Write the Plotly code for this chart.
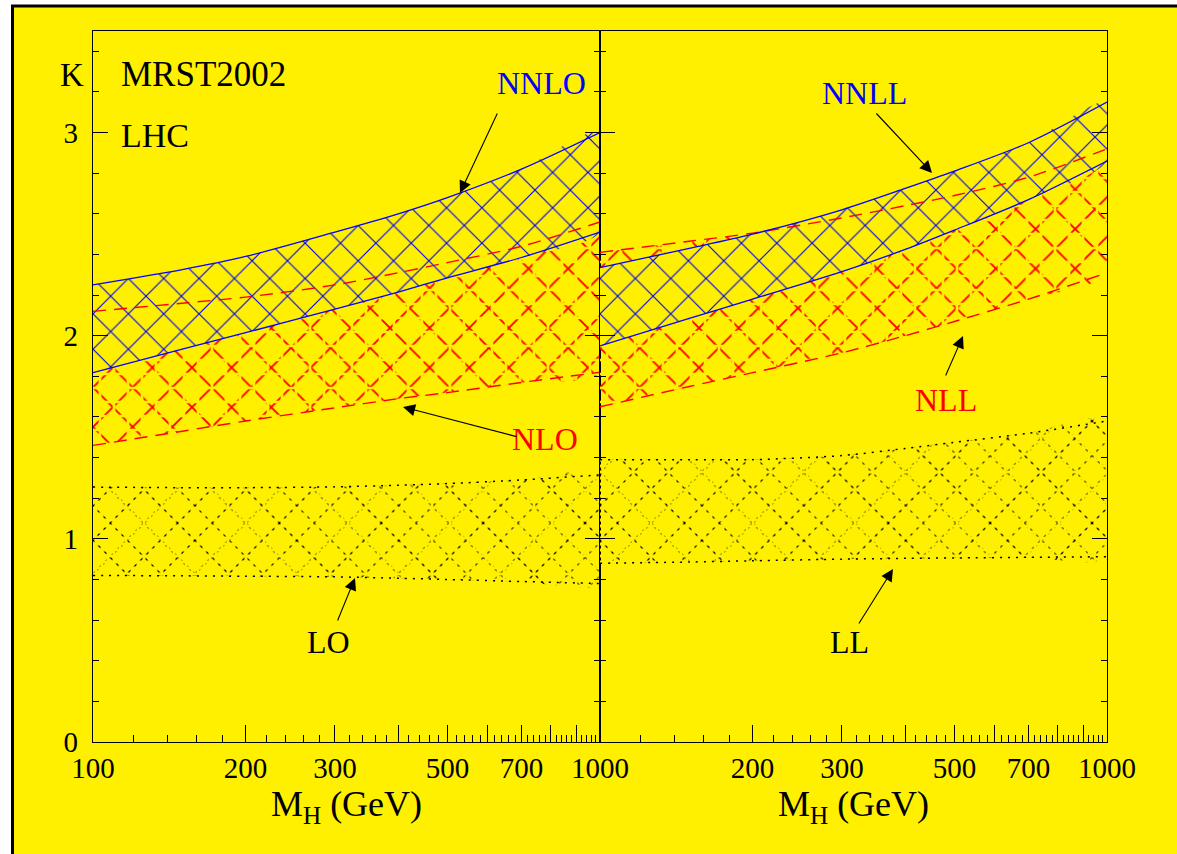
import plotly.graph_objects as go

# ---------------- data ----------------
MH = [100, 150, 200, 300, 400, 500, 700, 1000]

# left panel: fixed order
nnlo_hi = [2.25, 2.325, 2.39, 2.51, 2.60, 2.68, 2.82, 3.00]
nnlo_lo = [1.818, 1.934, 2.015, 2.131, 2.215, 2.285, 2.385, 2.51]
nlo_hi = [2.12, 2.16, 2.19, 2.25, 2.31, 2.36, 2.44, 2.56]
nlo_lo = [1.46, 1.53, 1.58, 1.645, 1.69, 1.72, 1.77, 1.82]
lo_hi = [1.255, 1.252, 1.252, 1.256, 1.264, 1.272, 1.29, 1.315]
lo_lo = [0.82, 0.818, 0.816, 0.813, 0.806, 0.80, 0.79, 0.78]

# right panel: resummed
nnll_hi = [2.335, 2.43, 2.50, 2.62, 2.725, 2.81, 2.95, 3.15]
nnll_lo = [1.95, 2.085, 2.18, 2.315, 2.425, 2.52, 2.67, 2.86]
nll_hi = [2.41, 2.465, 2.505, 2.58, 2.64, 2.69, 2.78, 2.92]
nll_lo = [1.65, 1.75, 1.818, 1.916, 2.0, 2.07, 2.18, 2.31]
ll_hi = [1.39, 1.39, 1.39, 1.41, 1.445, 1.475, 1.52, 1.58]
ll_lo = [0.88, 0.886, 0.892, 0.90, 0.904, 0.906, 0.909, 0.912]

x_major = [100, 200, 300, 400, 500, 600, 700, 800, 900, 1000]
x_text_left = ["100", "200", "300", "", "500", "", "700", "", "", "1000"]
x_text_right = ["", "200", "300", "", "500", "", "700", "", "", "1000"]
x_minor = [v for v in range(120, 1000, 20) if v % 100 != 0]
y_major = [0, 1, 2, 3]

# ---------------- style ----------------
YELLOW = "#FFF000"
BLUE = "#0000FF"
RED = "#FF0000"
FONT = "Liberation Serif"
W, H = 1177, 854
ML, MR, MT, MB = 93, 70, 31, 112


def pp(x, y):
    """pixel -> paper coordinates"""
    return (x - ML) / (W - ML - MR), (H - MB - y) / (H - MT - MB)


fig = go.Figure()
TRANSP = "rgba(0,0,0,0)"


def add_fill(xa, ya, hi, lo, shape, fg, size, solidity, bg=TRANSP, opacity=1.0):
    fig.add_trace(go.Scatter(
        x=MH + MH[::-1], y=hi + lo[::-1], xaxis=xa, yaxis=ya,
        mode="lines", line=dict(width=0, shape="spline", smoothing=0.8),
        fill="toself", fillcolor=bg,
        fillpattern=dict(shape=shape, fgcolor=fg, bgcolor=bg, size=size,
                         solidity=solidity, fgopacity=opacity, fillmode="replace"),
        hoverinfo="skip", showlegend=False))


def add_edges(xa, ya, hi, lo, color, dash, width):
    for ys in (hi, lo):
        fig.add_trace(go.Scatter(
            x=MH, y=ys, xaxis=xa, yaxis=ya, mode="lines",
            line=dict(color=color, dash=dash, width=width, shape="spline", smoothing=0.8),
            hoverinfo="skip", showlegend=False))


for xa, ya, b_hi, b_lo, r_hi, r_lo, k_hi, k_lo in [
        ("x", "y", lo_hi, lo_lo, nlo_hi, nlo_lo, nnlo_hi, nnlo_lo),
        ("x2", "y2", ll_hi, ll_lo, nll_hi, nll_lo, nnll_hi, nnll_lo)]:
    # dotted black band: black cross hatch broken into dots by a yellow grid
    add_fill(xa, ya, b_hi, b_lo, "x", "black", 24, 0.11)
    add_fill(xa, ya, b_hi, b_lo, "+", YELLOW, 6, 0.74)
    add_edges(xa, ya, b_hi, b_lo, "black", "2px,6px", 1.5)
    # dashed red band: red cross hatch broken by yellow grid
    add_fill(xa, ya, r_hi, r_lo, "x", RED, 28, 0.13)
    add_fill(xa, ya, r_hi, r_lo, "+", YELLOW, 14, 0.35)
    # blue cross-hatched band (opaque)
    add_fill(xa, ya, k_hi, k_lo, "x", BLUE, 25, 0.09, bg=YELLOW)
    add_edges(xa, ya, r_hi, r_lo, RED, "13px,8px", 1.4)
    add_edges(xa, ya, k_hi, k_lo, BLUE, "solid", 1.3)

axis_common = dict(showgrid=False, zeroline=False, showline=True, linecolor="black",
                   linewidth=1.3, ticks="inside", tickcolor="black",
                   tickfont=dict(family=FONT, size=29, color="black"))

xcommon = dict(axis_common, type="log", range=[2, 3], mirror=True, ticklen=17, tickwidth=1.2,
               tickvals=x_major,
               minor=dict(tickvals=x_minor, ticklen=7, ticks="inside", tickcolor="black", tickwidth=1),
               title=dict(text="M<sub>H</sub> (GeV)", font=dict(family=FONT, size=36, color="black"),
                          standoff=6))
ycommon = dict(axis_common, range=[0, 3.5], mirror="ticks", ticklen=15, tickwidth=1.2,
               tickvals=y_major,
               minor=dict(dtick=0.2, ticklen=6, ticks="inside", tickcolor="black", tickwidth=1))

fig.update_layout(
    width=W, height=H,
    margin=dict(l=ML, r=MR, t=MT, b=MB, pad=0),
    paper_bgcolor=YELLOW, plot_bgcolor=YELLOW,
    showlegend=False,
    xaxis=dict(xcommon, domain=[0, 0.5], anchor="y", ticktext=x_text_left),
    xaxis2=dict(xcommon, domain=[0.5, 1], anchor="y2", ticktext=x_text_right),
    yaxis=dict(ycommon, domain=[0, 1], anchor="x", ticklabelstandoff=8),
    yaxis2=dict(ycommon, domain=[0, 1], anchor="x2", showticklabels=False),
)

# text labels
labels = [
    ("K", 72, 75, "black", 33, "center"),
    ("MRST2002", 119, 74, "black", 35, "left"),
    ("LHC", 119, 135, "black", 34, "left"),
    ("NNLO", 541, 83, BLUE, 32, "center"),
    ("NLO", 545, 439, RED, 32, "center"),
    ("LO", 328, 642, "black", 32, "center"),
    ("NNLL", 864, 93, BLUE, 32, "center"),
    ("NLL", 946, 400, RED, 32, "center"),
    ("LL", 849, 642, "black", 32, "center"),
]
for txt, px, py, col, fs, anc in labels:
    x, y = pp(px, py)
    fig.add_annotation(text=txt, x=x, y=y, xref="paper", yref="paper", showarrow=False,
                       xanchor=anc, yanchor="middle",
                       font=dict(family=FONT, size=fs, color=col))

# arrows: (tip px, tail px)
arrows = [
    ((460, 193), (498, 112)),
    ((403, 407), (518, 437)),
    ((355, 578), (337, 622)),
    ((932, 173), (875, 112)),
    ((963, 336), (945, 377)),
    ((893, 569), (858, 625)),
]
for (tx, ty), (sx, sy) in arrows:
    x, y = pp(tx, ty)
    fig.add_annotation(text="", x=x, y=y, xref="paper", yref="paper", showarrow=True,
                       ax=sx - tx, ay=sy - ty, arrowhead=2, arrowsize=2.2, arrowwidth=1.1,
                       arrowcolor="black")

# page frame: white outside, thick black border at left and top
x0, _ = pp(0, 0)
xw, _ = pp(11, 0)
xr, _ = pp(W, 0)
_, ytop = pp(0, 0)
_, yw = pp(0, 5)
_, ybot = pp(0, H)
fig.add_shape(type="rect", xref="paper", yref="paper", x0=x0, x1=xw, y0=ybot, y1=ytop,
              fillcolor="white", line=dict(width=0))
fig.add_shape(type="rect", xref="paper", yref="paper", x0=x0, x1=xr, y0=yw, y1=ytop,
              fillcolor="white", line=dict(width=0))
xb, _ = pp(12.5, 0)
_, yb = pp(0, 6)
fig.add_shape(type="line", xref="paper", yref="paper", x0=xb, x1=xb, y0=ybot, y1=yb,
              line=dict(color="black", width=3))
fig.add_shape(type="line", xref="paper", yref="paper", x0=pp(11, 0)[0], x1=xr, y0=yb, y1=yb,
              line=dict(color="black", width=3))

fig.write_html("out.html", config={"displayModeBar": False},
               post_script="document.body.style.margin='0';document.body.style.overflow='hidden';")
